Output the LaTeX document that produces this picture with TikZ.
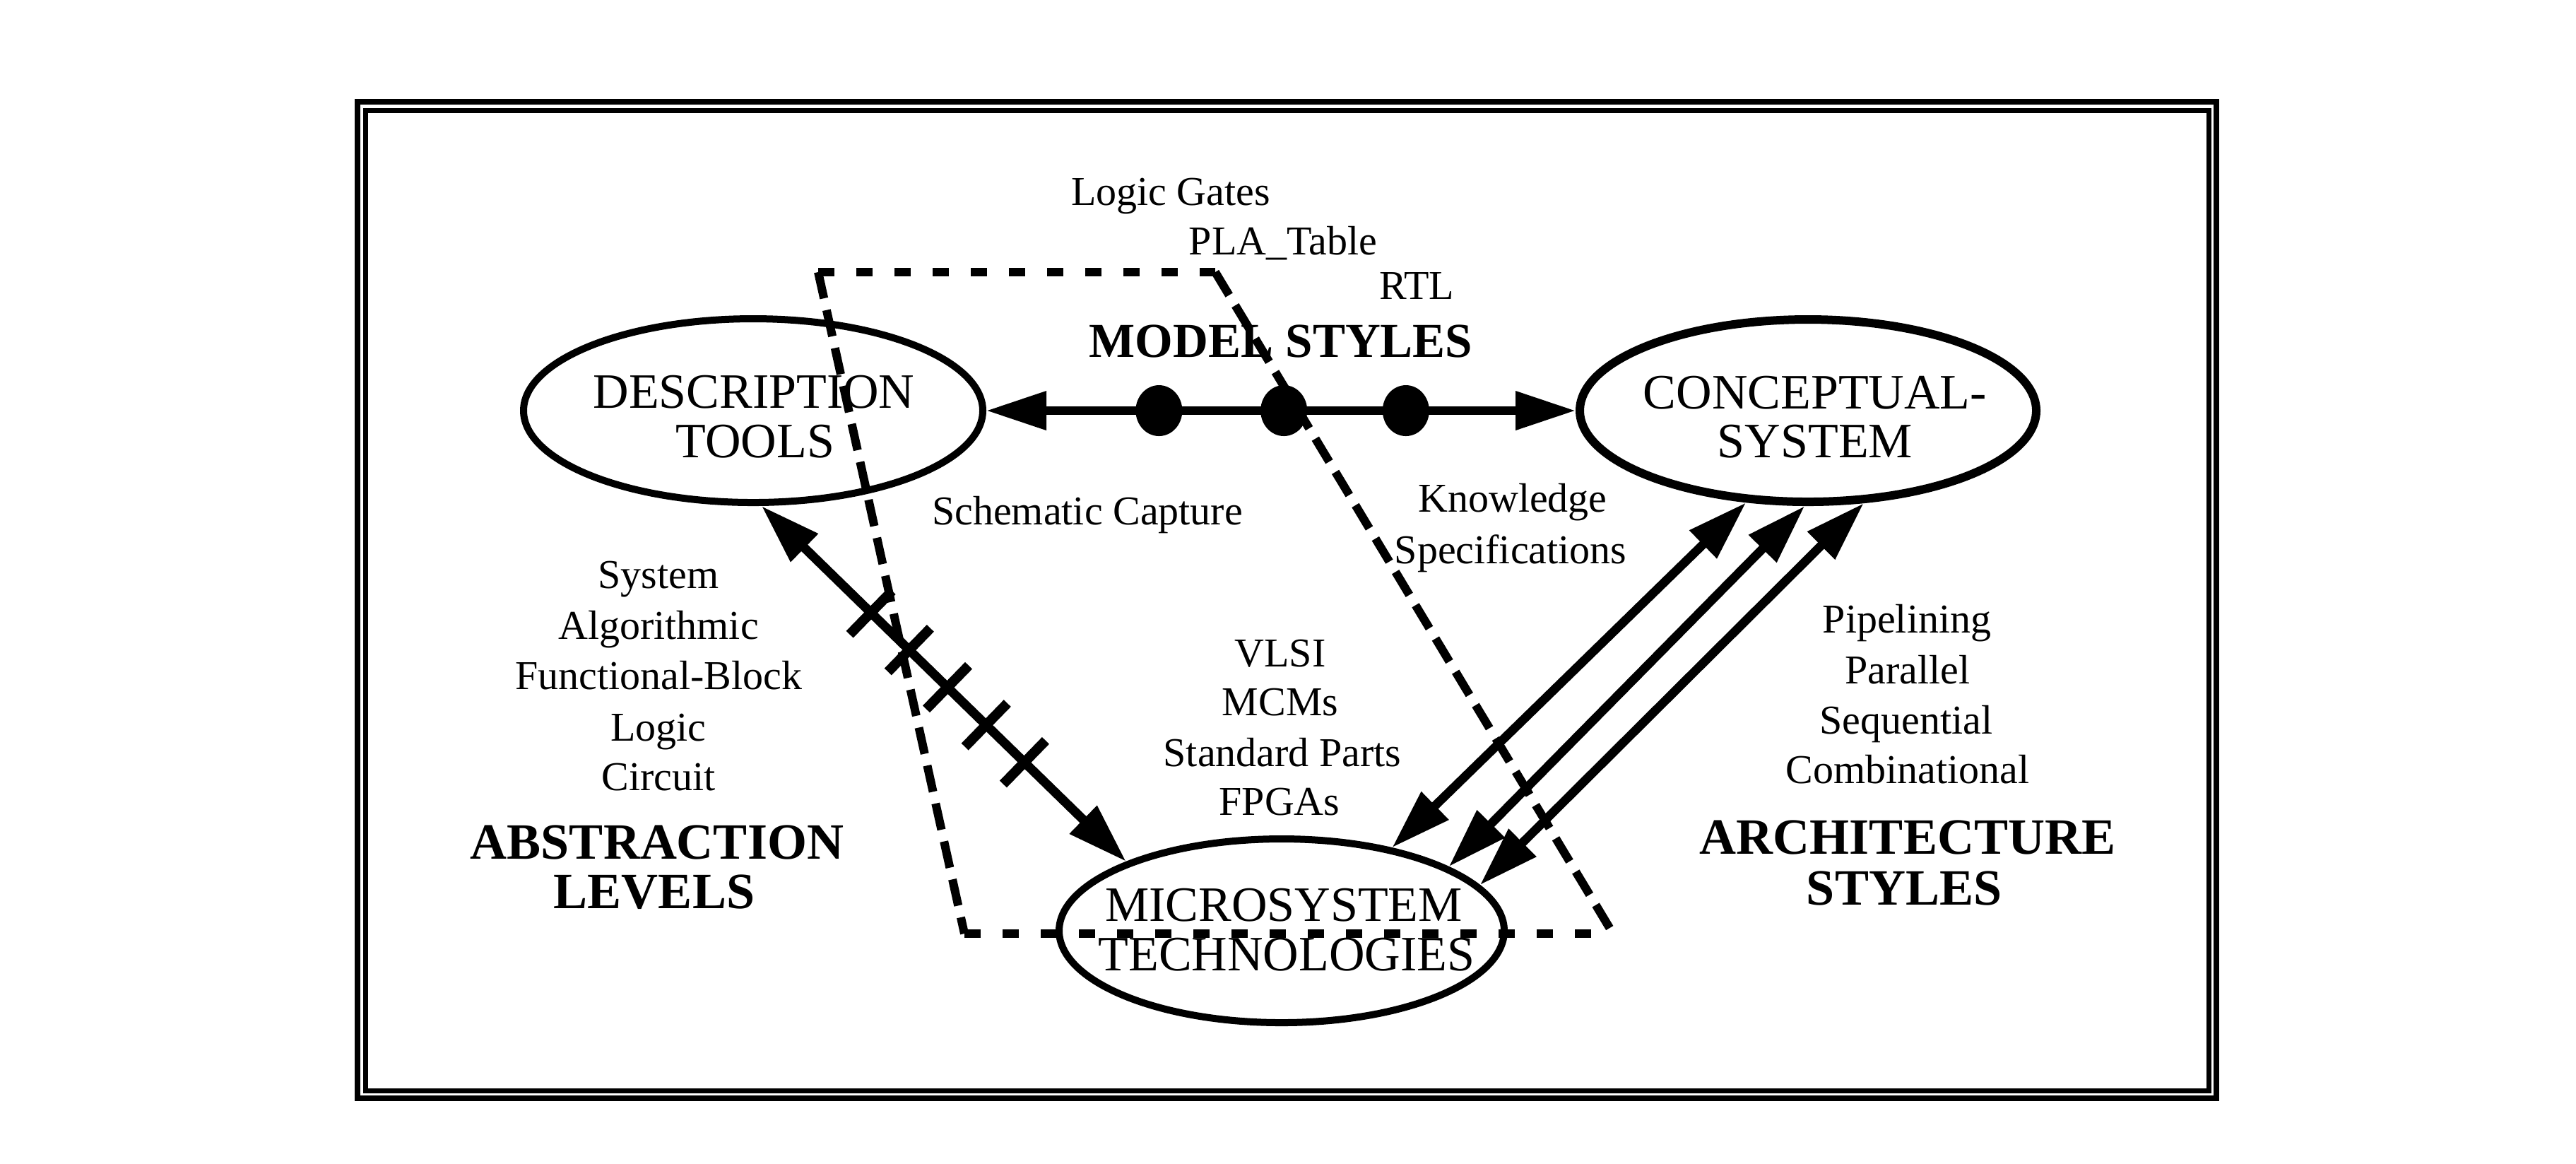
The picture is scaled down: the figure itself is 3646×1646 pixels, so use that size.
\documentclass[tikz,border=0pt]{standalone}
\usepackage{fontspec}
\setmainfont{Liberation Serif}
\usetikzlibrary{shapes.geometric,arrows.meta,decorations.markings}
\begin{document}
\begin{tikzpicture}[x=0.2pt,y=-0.2pt,
  ell/.style={draw=black, ellipse, inner sep=0pt, line width=2pt},
  lab/.style={anchor=base, inner sep=0pt, font=\fontsize{14}{14}\selectfont},
  sm/.style={anchor=base, inner sep=0pt, font=\fontsize{11.6}{14}\selectfont},
  hd/.style={anchor=base, inner sep=0pt, font=\fontsize{14.4}{14}\selectfont\bfseries},
  conn/.style={line width=2.5pt, {Triangle[length=17pt,width=10.5pt]}-{Triangle[length=17pt,width=10.5pt]}},
  dashh/.style={line width=2.4pt, dash pattern=on 4.6pt off 6.2pt},
  dashs/.style={line width=2.4pt, dash pattern=on 7.6pt off 3.4pt},
  tickmark/.style={-, solid, line width=2.8pt},
]
\useasboundingbox[fill=white] (0,0) rectangle (3646,1646);

% double frame
\draw[line width=1.6pt] (506,144) rectangle (3137,1554);
\draw[line width=1.4pt] (517,156) rectangle (3126,1543);

% ellipses
\node[ell, minimum width=130pt, minimum height=52pt] (dt) at (1066,581) {};
\node[ell, line width=2.4pt, minimum width=129.2pt, minimum height=51.6pt] (cs) at (2559,581) {};
\node[ell, minimum width=126pt, minimum height=52pt] (ms) at (1814,1317) {};

% ellipse labels
\node[lab] (dt1) at (1067,577) {DESCRIPTION};
\node[lab] (dt2) at (1069,647) {TOOLS};
\node[lab] (cs1) at (2569,578) {CONCEPTUAL-};
\node[lab] (cs2) at (2569,647) {SYSTEM};
\node[lab] (ms1) at (1817,1303) {MICROSYSTEM};
\node[lab] (ms2) at (1821,1373) {TECHNOLOGIES};

% model styles connector with dots
\draw[conn, line width=2.4pt, postaction={decorate},
  decoration={markings,
    mark=at position 0.293 with {\fill (0,0) ellipse [x radius=6.6pt, y radius=7.2pt];},
    mark=at position 0.505 with {\fill (0,0) ellipse [x radius=6.6pt, y radius=7.2pt];},
    mark=at position 0.712 with {\fill (0,0) ellipse [x radius=6.6pt, y radius=7.2pt];}}]
  (dt.east) -- (cs.west);

% abstraction levels connector with ticks
\draw[conn, line width=2.6pt, postaction={decorate},
  decoration={markings,
    mark=at position 0.300 with {\draw[tickmark] (0,-8.6pt) -- (0,8.6pt);},
    mark=at position 0.405 with {\draw[tickmark] (0,-8.6pt) -- (0,8.6pt);},
    mark=at position 0.510 with {\draw[tickmark] (0,-8.6pt) -- (0,8.6pt);},
    mark=at position 0.616 with {\draw[tickmark] (0,-8.6pt) -- (0,8.6pt);},
    mark=at position 0.721 with {\draw[tickmark] (0,-8.6pt) -- (0,8.6pt);}}]
  (dt.-85.6) -- (ms.156.9);

% architecture styles connectors
\draw[conn] (cs.-124) -- (ms.37.8);
\draw[conn] (cs.-92) -- (ms.21.8);
\draw[conn] (cs.-59.6) -- (ms.13.8);

% model styles texts
\node[sm] (lg) at (1657,290) {Logic Gates};
\node[sm] (pla) at (1816,360) {PLA\_Table};
\node[sm] (rtl) at (2005,423) {RTL};
\node[hd, font=\fontsize{13.8}{14}\selectfont\bfseries] (mst) at (1813,505) {MODEL STYLES};

\node[sm] (sc) at (1539,742) {Schematic Capture};
\node[sm] (kn) at (2141,724) {Knowledge};
\node[sm] (sp) at (2138,797) {Specifications};

% abstraction levels
\node[sm] (a1) at (932,832) {System};
\node[sm] (a2) at (932,904) {Algorithmic};
\node[sm] (a3) at (932,975) {Functional-Block};
\node[sm] (a4) at (932,1048) {Logic};
\node[sm] (a5) at (932,1118) {Circuit};
\node[hd] (ab1) at (930,1215) {ABSTRACTION};
\node[hd] (ab2) at (926,1285) {LEVELS};

% technologies
\node[sm] (t1) at (1812,943) {VLSI};
\node[sm] (t2) at (1812,1012) {MCMs};
\node[sm] (t3) at (1815,1084) {Standard Parts};
\node[sm] (t4) at (1811,1153) {FPGAs};

% architecture styles
\node[sm] (r1) at (2699,895) {Pipelining};
\node[sm] (r2) at (2700,967) {Parallel};
\node[sm] (r3) at (2698,1038) {Sequential};
\node[sm] (r4) at (2700,1108) {Combinational};
\node[hd] (ar1) at (2700,1208) {ARCHITECTURE};
\node[hd] (ar2) at (2695,1280) {STYLES};

% dashed region
\coordinate (q1) at (1158,385);
\coordinate (q2) at (1720,385);
\coordinate (q3) at (2283,1321);
\coordinate (q4) at (1365,1321);
\draw[dashh] (q1) -- (q2);
\draw[dashs] (q1) -- (q4);
\draw[dashs] (q2) -- (q3);
\draw[dashh] (q4) -- (q3);
\end{tikzpicture}
\end{document}
